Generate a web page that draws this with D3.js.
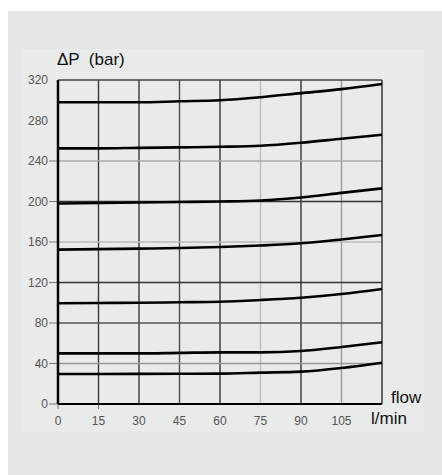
<html>
<head>
<script src="https://d3js.org/d3.v7.min.js"></script>
<style>
    body { margin: 0; background: #fff; }
    svg { display: block; }
    .tick-label { font-family: "Liberation Sans", Arial, sans-serif; font-size: 12px; fill: #555; }
    .axis-title { font-family: "Liberation Sans", Arial, sans-serif; fill: #111; white-space: pre; }
</style>
</head>
<body>
<svg id="chart"></svg>
<script>
    // data
    var flowTicks = [0, 15, 30, 45, 60, 75, 90, 105, 120];
    var pressureTicks = [0, 40, 80, 120, 160, 200, 240, 280, 320];
    var flow = [0, 15, 30, 45, 60, 75, 90, 105, 120];
    var curve300 = [298, 298, 298, 299, 300, 303, 307, 311, 316];
    var curve250 = [252.5, 252.5, 253, 253.5, 254, 255, 258, 262, 266];
    var curve200 = [198, 198.5, 199, 199.5, 200, 201, 204, 208.5, 213];
    var curve150 = [152.5, 153, 153.5, 154, 155, 156.5, 158.7, 162.5, 167];
    var curve100 = [99.5, 99.8, 100, 100.5, 101, 102.7, 105, 108.6, 113.6];
    var curve50 = [50, 50, 50, 50.5, 51, 51, 52.3, 56.3, 61];
    var curve30 = [29.6, 29.7, 29.8, 29.9, 30, 31, 32, 35.6, 40.8];
    var curves = [curve300, curve250, curve200, curve150, curve100, curve50, curve30];

    // gridline colours (the scan has them in different greys)
    var vGridColor = { 15: "#3a3a3a", 30: "#3a3a3a", 45: "#4a4a4a", 60: "#333", 75: "#bdbdbd", 90: "#333", 105: "#9a9a9a" };
    var hGridColor = { 40: "#999", 80: "#555", 120: "#333", 160: "#bbb", 200: "#333", 240: "#aaa" };

    var W = 442, H = 475;
    var svg = d3.select("#chart").attr("width", W).attr("height", H);

    // backgrounds
    svg.append("rect").attr("x", 8).attr("y", 11).attr("width", W - 8).attr("height", H - 11).attr("fill", "#e6e6e6");
    svg.append("rect").attr("x", 22).attr("y", 49).attr("width", 402).attr("height", 383).attr("fill", "#e9eaea");

    var plotLeft = 58, plotRight = 382, plotTop = 80, plotBottom = 404;

    var x = d3.scaleLinear().domain([0, 120]).range([plotLeft, plotRight]);
    var y = d3.scaleLinear().domain([0, 320]).range([plotBottom, plotTop]);

    var g = svg.append("g");

    // vertical grid
    g.selectAll(".vgrid")
        .data(flowTicks.filter(d => vGridColor[d]))
        .enter().append("line")
        .attr("x1", d => x(d)).attr("x2", d => x(d))
        .attr("y1", y(320)).attr("y2", y(0))
        .attr("stroke", d => vGridColor[d])
        .attr("stroke-width", 1.4);

    // horizontal grid
    g.selectAll(".hgrid")
        .data(pressureTicks.filter(d => hGridColor[d]))
        .enter().append("line")
        .attr("x1", x(0)).attr("x2", x(120))
        .attr("y1", d => y(d)).attr("y2", d => y(d))
        .attr("stroke", d => hGridColor[d])
        .attr("stroke-width", 1.4);

    // frame top / right
    g.append("line").attr("x1", x(0)).attr("x2", x(120)).attr("y1", y(320)).attr("y2", y(320))
        .attr("stroke", "#444").attr("stroke-width", 1.4);
    g.append("line").attr("x1", x(120)).attr("x2", x(120)).attr("y1", y(320)).attr("y2", y(0))
        .attr("stroke", "#333").attr("stroke-width", 1.5);

    // tick marks
    g.selectAll(".ytick")
        .data(pressureTicks.filter(d => d <= 240))
        .enter().append("line")
        .attr("x1", x(0) - 9).attr("x2", x(0))
        .attr("y1", d => y(d)).attr("y2", d => y(d))
        .attr("stroke", "#777").attr("stroke-width", 1);
    g.selectAll(".xtick")
        .data(flowTicks.filter(d => d <= 15))
        .enter().append("line")
        .attr("x1", d => x(d)).attr("x2", d => x(d))
        .attr("y1", y(0)).attr("y2", y(0) + 5)
        .attr("stroke", "#777").attr("stroke-width", 1);

    // axes
    g.append("line").attr("x1", x(0)).attr("x2", x(120)).attr("y1", y(0)).attr("y2", y(0))
        .attr("stroke", "#000").attr("stroke-width", 2);
    g.append("line").attr("x1", x(0)).attr("x2", x(0)).attr("y1", y(320)).attr("y2", y(0))
        .attr("stroke", "#000").attr("stroke-width", 2.5);

    // curves
    var line = d3.line()
        .x((d, i) => x(flow[i]))
        .y(d => y(d))
        .curve(d3.curveMonotoneX);

    g.selectAll(".curve")
        .data(curves)
        .enter().append("path")
        .attr("d", line)
        .attr("fill", "none")
        .attr("stroke", "#000")
        .attr("stroke-width", 2.6);

    // tick labels
    g.selectAll(".ylabel")
        .data(pressureTicks)
        .enter().append("text")
        .attr("class", "tick-label")
        .attr("x", x(0) - 10)
        .attr("y", d => y(d) + 4)
        .attr("text-anchor", "end")
        .text(d => d);

    g.selectAll(".xlabel")
        .data(flowTicks.filter(d => d < 120))
        .enter().append("text")
        .attr("class", "tick-label")
        .attr("x", d => x(d))
        .attr("y", y(0) + 21)
        .attr("text-anchor", "middle")
        .text(d => d);

    // titles
    svg.append("text").attr("class", "axis-title")
        .attr("x", 57).attr("y", 65)
        .style("font-size", "17px")
        .text("\u0394P  (bar)");
    svg.append("text").attr("class", "axis-title")
        .attr("x", 391).attr("y", 403)
        .style("font-size", "17px")
        .text("flow");
    svg.append("text").attr("class", "axis-title")
        .attr("x", 371).attr("y", 424)
        .style("font-size", "17px")
        .text("l/min");
</script>
</body>
</html>
